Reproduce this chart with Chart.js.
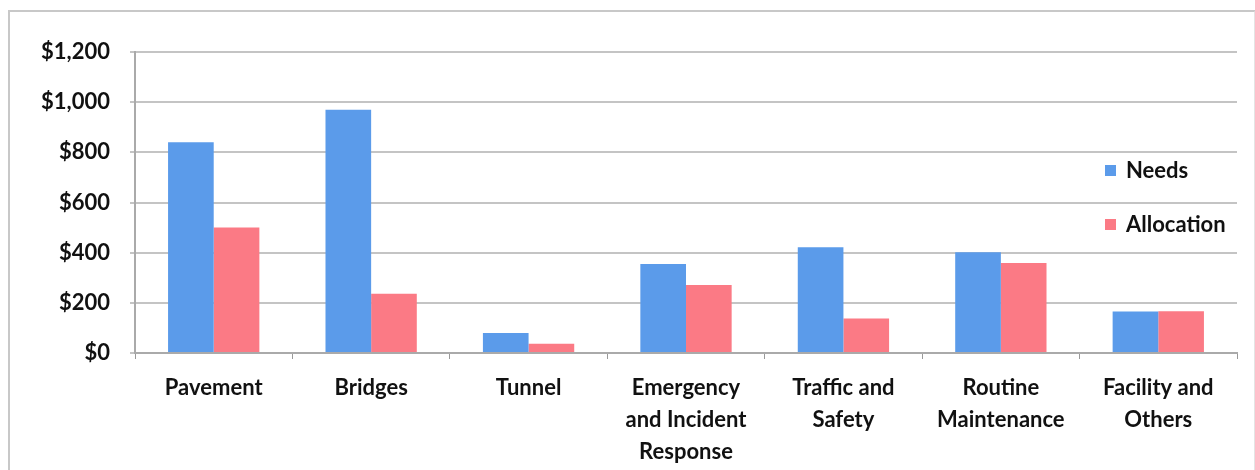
<!DOCTYPE html>
<html>
<head>
<meta charset="utf-8">
<script src="https://cdn.jsdelivr.net/npm/chart.js@4"></script>
<style>
  html, body { margin: 0; padding: 0; background: #fff; }
  #wrap { position: relative; width: 1255px; height: 470px; }
  #frame { position: absolute; left: 8px; top: 10px; width: 1244px; height: 470px;
           border-left: 2px solid #c8c8c8; border-top: 2px solid #c8c8c8; border-right: 2px solid #e4e4e4; }
  canvas { position: absolute; left: 0; top: 0; }
</style>
</head>
<body>
<div id="wrap">
  <div id="frame"></div>
  <canvas id="chart" width="1255" height="470"></canvas>
</div>
<script>
const categories = [
  'Pavement',
  'Bridges',
  'Tunnel',
  ['Emergency', 'and Incident', 'Response'],
  ['Traffic and', 'Safety'],
  ['Routine', 'Maintenance'],
  ['Facility and', 'Others']
];
const needs = [840, 970, 80, 355, 422, 402, 165];
const allocation = [500, 236, 37, 271, 138, 359, 166];
const yTicks = [0, 200, 400, 600, 800, 1000, 1200];

const FONT = 'Lato, "Open Sans", sans-serif';

// legend drawn inside the plot, like the original
const insideLegend = {
  id: 'insideLegend',
  afterDraw(chart) {
    const ctx = chart.ctx;
    const rows = [170, 224];
    ctx.save();
    ctx.font = 'bold 22px ' + FONT;
    ctx.textBaseline = 'middle';
    chart.data.datasets.forEach((ds, i) => {
      const y = rows[i];
      ctx.fillStyle = ds.backgroundColor;
      ctx.fillRect(1105, y - 5, 11, 11);
      ctx.fillStyle = '#111';
      ctx.fillText(ds.label, 1126, y + 1);
    });
    ctx.restore();
  }
};

new Chart(document.getElementById('chart'), {
  type: 'bar',
  data: {
    labels: categories,
    datasets: [
      { label: 'Needs', data: needs, backgroundColor: '#5b9bea' },
      { label: 'Allocation', data: allocation, backgroundColor: '#fb7a85' }
    ]
  },
  options: {
    responsive: false,
    animation: false,
    layout: { padding: { top: 52, right: 18, left: 0, bottom: 0 } },
    plugins: { legend: { display: false }, tooltip: { enabled: false } },
    datasets: { bar: { barPercentage: 1, categoryPercentage: 0.58 } },
    scales: {
      x: {
        afterFit: s => { s.height = 117; },
        grid: { display: true, drawOnChartArea: false, offset: true, tickLength: 6, color: '#999' },
        border: { color: '#aaa', width: 2 },
        ticks: {
          color: '#111',
          padding: 13,
          maxRotation: 0,
          autoSkip: false,
          font: { family: FONT, size: 22, weight: 'bold', lineHeight: 1.46 }
        }
      },
      y: {
        min: 0,
        max: 1200,
        afterFit: s => { s.width = 135; },
        afterBuildTicks: s => { s.ticks = yTicks.map(v => ({ value: v })); },
        grid: { color: '#c4c4c4', lineWidth: 2, tickLength: 5 },
        border: { color: '#aaa', width: 2 },
        ticks: {
          color: '#111',
          padding: 20,
          font: { family: FONT, size: 22, weight: 'bold' },
          callback: v => '$' + v.toLocaleString('en-US')
        }
      }
    }
  },
  plugins: [insideLegend]
});
</script>
</body>
</html>
